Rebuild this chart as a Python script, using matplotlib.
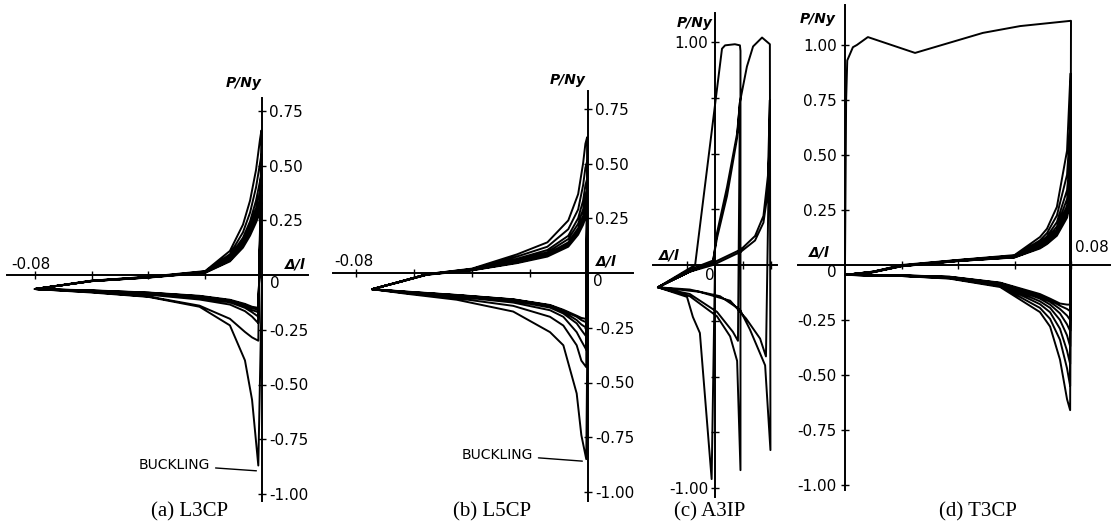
import matplotlib
matplotlib.use("Agg")
import matplotlib.pyplot as plt

W, H = 1119, 532

# ---------------- data (Delta/l , P/Ny) ----------------
# (a) L3CP : compression branches (from buckling tip to the left end)
a_dn_x = [-0.0013, -0.0035, -0.0060, -0.0113, -0.0220, -0.0400, -0.0600, -0.0800]
a_dn_y = [
    [-0.87, -0.57, -0.39, -0.23, -0.145, -0.100, -0.080, -0.064],
    [-0.30, -0.285, -0.26, -0.20, -0.140, -0.098, -0.078, -0.064],
    [-0.22, -0.19, -0.165, -0.135, -0.112, -0.090, -0.075, -0.064],
    [-0.19, -0.17, -0.150, -0.125, -0.105, -0.086, -0.073, -0.064],
    [-0.17, -0.16, -0.142, -0.120, -0.100, -0.083, -0.072, -0.064],
    [-0.16, -0.15, -0.136, -0.116, -0.097, -0.081, -0.071, -0.064],
    [-0.15, -0.145, -0.132, -0.113, -0.095, -0.080, -0.070, -0.064],
]
# (a) tension branches (from left end to tension peak)
a_up_x = [-0.0800, -0.0700, -0.0600, -0.0400, -0.0200, -0.0113, -0.0067, -0.0042, -0.0021, -0.0007, -0.0002]
a_up_y = [
    [-0.064, -0.045, -0.026, -0.008, 0.018, 0.110, 0.230, 0.340, 0.480, 0.620, 0.660],
    [-0.064, -0.045, -0.026, -0.009, 0.016, 0.095, 0.195, 0.285, 0.400, 0.510, 0.550],
    [-0.064, -0.046, -0.027, -0.010, 0.014, 0.085, 0.170, 0.245, 0.340, 0.430, 0.460],
    [-0.064, -0.046, -0.027, -0.010, 0.013, 0.078, 0.155, 0.225, 0.305, 0.380, 0.410],
    [-0.064, -0.046, -0.028, -0.011, 0.012, 0.072, 0.145, 0.210, 0.280, 0.340, 0.365],
    [-0.064, -0.046, -0.028, -0.011, 0.011, 0.067, 0.135, 0.195, 0.260, 0.310, 0.330],
    [-0.064, -0.046, -0.028, -0.012, 0.010, 0.062, 0.125, 0.180, 0.240, 0.285, 0.300],
]

# (b) L5CP
b_dn_x = [-0.0006, -0.0023, -0.0039, -0.0085, -0.0131, -0.0258, -0.0453, -0.0625, -0.0745]
b_dn_y = [
    [-0.85, -0.74, -0.55, -0.33, -0.27, -0.176, -0.122, -0.095, -0.074],
    [-0.43, -0.40, -0.33, -0.24, -0.20, -0.150, -0.115, -0.092, -0.074],
    [-0.35, -0.31, -0.27, -0.20, -0.17, -0.135, -0.108, -0.090, -0.074],
    [-0.29, -0.26, -0.23, -0.185, -0.158, -0.127, -0.105, -0.088, -0.074],
    [-0.25, -0.235, -0.215, -0.177, -0.152, -0.123, -0.102, -0.087, -0.074],
    [-0.225, -0.215, -0.20, -0.172, -0.148, -0.121, -0.101, -0.086, -0.074],
    [-0.21, -0.205, -0.195, -0.168, -0.146, -0.120, -0.100, -0.085, -0.074],
]
b_up_x = [-0.0745, -0.0650, -0.0555, -0.0400, -0.0245, -0.0140, -0.0068, -0.0034, -0.0017, -0.0009, -0.0003]
b_up_y = [
    [-0.074, -0.040, -0.005, 0.020, 0.085, 0.140, 0.240, 0.360, 0.500, 0.590, 0.620],
    [-0.074, -0.040, -0.005, 0.018, 0.075, 0.120, 0.200, 0.290, 0.400, 0.480, 0.510],
    [-0.074, -0.040, -0.006, 0.016, 0.065, 0.105, 0.170, 0.250, 0.330, 0.400, 0.430],
    [-0.074, -0.041, -0.006, 0.015, 0.058, 0.095, 0.155, 0.225, 0.290, 0.350, 0.380],
    [-0.074, -0.041, -0.007, 0.014, 0.052, 0.087, 0.140, 0.205, 0.260, 0.310, 0.340],
    [-0.074, -0.041, -0.007, 0.013, 0.048, 0.080, 0.130, 0.190, 0.240, 0.280, 0.300],
    [-0.074, -0.042, -0.008, 0.012, 0.045, 0.075, 0.120, 0.175, 0.220, 0.250, 0.270],
]

# (c) A3IP : the record in order, segment by segment
c_seg_x = [
    [0.0, -0.0012, -0.0054, -0.0079, -0.0100, -0.0204],
    [-0.0204, -0.0071, 0.0025, 0.0036, 0.0071, 0.0089, 0.0091],
    [0.0091, 0.0079, 0.0054, 0.0007, -0.0090, -0.0204],
    [-0.0204, -0.0090, -0.0007, 0.0007, 0.0043, 0.0079, 0.0089],
    [0.0082, 0.0064, 0.0007, -0.0090, -0.0204],
    [-0.0204, -0.0090, -0.0007, 0.0007, 0.0043, 0.0079, 0.0089, 0.0114, 0.0136, 0.0168, 0.0196],
    [0.0198, 0.0179, 0.0125, 0.0089, 0.0018, -0.0090, -0.0204],
    [-0.0204, -0.0090, -0.0007, 0.0093, 0.0143, 0.0173, 0.0189, 0.0196],
    [0.0182, 0.0161, 0.0111, 0.0054, -0.0057, -0.0204],
    [-0.0204, -0.0090, -0.0007, 0.0093, 0.0143, 0.0173, 0.0189, 0.0196],
]
c_seg_y = [
    [0.0, -0.96, -0.305, -0.233, -0.143, -0.10],
    [-0.10, 0.0, 0.97, 0.985, 0.99, 0.985, 0.96],
    [-0.92, -0.43, -0.32, -0.23, -0.14, -0.10],
    [-0.10, -0.03, 0.01, 0.143, 0.35, 0.59, 0.73],
    [-0.34, -0.30, -0.21, -0.13, -0.10],
    [-0.10, -0.02, 0.02, 0.12, 0.31, 0.57, 0.73, 0.89, 0.98, 1.02, 0.99],
    [-0.83, -0.45, -0.29, -0.20, -0.14, -0.11, -0.10],
    [-0.10, -0.03, 0.01, 0.07, 0.13, 0.22, 0.40, 0.74],
    [-0.41, -0.33, -0.24, -0.16, -0.12, -0.10],
    [-0.10, -0.03, 0.0, 0.06, 0.11, 0.19, 0.33, 0.62],
]

# (d) T3CP
d_first_x = [0.0, 0.0004, 0.0008, 0.0028, 0.0042, 0.0081, 0.0248, 0.0488, 0.0620, 0.0800]
d_first_y = [0.0, 0.75, 0.93, 0.99, 1.00, 1.036, 0.964, 1.055, 1.086, 1.110]
d_dn_x = [0.0797, 0.0786, 0.0761, 0.0726, 0.0690, 0.0549, 0.0370, 0.0200, 0.0]
d_dn_y = [
    [-0.66, -0.61, -0.43, -0.28, -0.214, -0.100, -0.062, -0.050, -0.045],
    [-0.55, -0.47, -0.34, -0.245, -0.195, -0.096, -0.060, -0.050, -0.045],
    [-0.45, -0.39, -0.29, -0.215, -0.178, -0.092, -0.058, -0.049, -0.045],
    [-0.37, -0.32, -0.25, -0.195, -0.165, -0.089, -0.057, -0.049, -0.045],
    [-0.30, -0.27, -0.22, -0.180, -0.153, -0.086, -0.056, -0.048, -0.045],
    [-0.25, -0.23, -0.20, -0.168, -0.145, -0.084, -0.055, -0.048, -0.045],
    [-0.21, -0.20, -0.185, -0.160, -0.138, -0.082, -0.054, -0.047, -0.045],
    [-0.18, -0.18, -0.175, -0.153, -0.132, -0.080, -0.053, -0.047, -0.045],
]
d_up_x = [0.0, 0.0100, 0.0200, 0.0400, 0.0600, 0.0690, 0.0715, 0.0750, 0.0786, 0.0798]
d_up_y = [
    [-0.045, -0.030, 0.000, 0.023, 0.045, 0.127, 0.165, 0.264, 0.520, 0.870],
    [-0.045, -0.030, -0.002, 0.022, 0.042, 0.112, 0.145, 0.225, 0.410, 0.640],
    [-0.045, -0.031, -0.003, 0.021, 0.040, 0.102, 0.130, 0.195, 0.340, 0.500],
    [-0.045, -0.031, -0.004, 0.020, 0.038, 0.094, 0.120, 0.175, 0.300, 0.430],
    [-0.045, -0.032, -0.004, 0.019, 0.037, 0.088, 0.112, 0.160, 0.270, 0.380],
    [-0.045, -0.032, -0.005, 0.019, 0.036, 0.083, 0.105, 0.150, 0.250, 0.340],
    [-0.045, -0.032, -0.005, 0.018, 0.035, 0.079, 0.100, 0.141, 0.232, 0.310],
    [-0.045, -0.033, -0.006, 0.018, 0.034, 0.075, 0.095, 0.133, 0.215, 0.285],
]

y_ticks = [1.0, 0.75, 0.5, 0.25, -0.25, -0.5, -0.75, -1.0]
y_labels = ["1.00", "0.75", "0.50", "0.25", "-0.25", "-0.50", "-0.75", "-1.00"]
captions = ["(a) L3CP", "(b) L5CP", "(c) A3IP", "(d) T3CP"]

LW = 1.4
TXT = dict(fontsize=11, family="DejaVu Sans")
PN = dict(fontsize=10, family="DejaVu Sans", style="italic", weight="bold")

fig = plt.figure(figsize=(W / 100, H / 100), dpi=100)


def panel(x0, y0, sx, sy, xlim, ylim, side):
    # place an axes so that data (0,0) lands on pixel (x0,y0)
    left = x0 + xlim[0] * sx
    right = x0 + xlim[1] * sx
    top = y0 - ylim[1] * sy
    bot = y0 - ylim[0] * sy
    ax = fig.add_axes([left / W, 1 - bot / H, (right - left) / W, (bot - top) / H])
    ax.set_xlim(xlim)
    ax.set_ylim(ylim)
    ax.patch.set_alpha(0)
    for s in ax.spines.values():
        s.set_visible(False)
    ax.spines[side].set_visible(True)
    ax.spines[side].set_position(("data", 0))
    ax.spines["bottom"].set_visible(True)
    ax.spines["bottom"].set_position(("data", 0))
    for s in (side, "bottom"):
        ax.spines[s].set_linewidth(LW)
    ax.yaxis.set_ticks_position(side)
    ax.xaxis.set_ticks_position("bottom")
    ax.tick_params(direction="inout", length=6, width=1.0, labelsize=11, pad=2)
    ax.tick_params(axis="x", labelbottom=False)
    return ax


def loops(ax, first_x, first_y, dn_x, dn_y, up_x, up_y):
    xs, ys = list(first_x), list(first_y)
    for i in range(len(dn_y)):
        xs += dn_x
        ys += dn_y[i]
        if i < len(up_y):
            xs += up_x
            ys += up_y[i]
    ax.plot(xs, ys, color="k", lw=LW, clip_on=False, solid_joinstyle="round")


# ---- (a) ----
ax = panel(262, 275, 2840, 219, (-0.0898, 0.0162), (-1.03, 0.81), "right")
loops(ax, [0.0], [0.0], a_dn_x, a_dn_y, a_up_x, a_up_y)
ax.set_yticks(y_ticks[1:], y_labels[1:])
ax.set_xticks([-0.08, -0.06, -0.04, -0.02])
ax.text(0.0, 0.875, "P/Ny", ha="right", va="center", **PN)
ax.text(-0.0815, 0.012, "-0.08", ha="center", va="bottom", **TXT)
ax.text(0.0116, 0.015, "Δ/l", ha="center", va="bottom", **PN)
ax.text(0.0046, -0.041, "0", ha="center", va="center", **TXT)
ax.annotate("BUCKLING", xy=(-0.001, -0.895), xytext=(-0.0183, -0.868),
            ha="right", va="center", fontsize=10, family="DejaVu Sans",
            arrowprops=dict(arrowstyle="-", lw=1.0, color="k"))

# ---- (b) ----
ax = panel(588, 273, 2900, 219, (-0.088, 0.0155), (-1.04, 0.83), "right")
loops(ax, [0.0], [0.0], b_dn_x, b_dn_y, b_up_x, b_up_y)
ax.set_yticks(y_ticks[1:], y_labels[1:])
ax.set_xticks([-0.08, -0.06, -0.04, -0.02])
ax.text(-0.001, 0.88, "P/Ny", ha="right", va="center", **PN)
ax.text(-0.0807, 0.019, "-0.08", ha="center", va="bottom", **TXT)
ax.text(0.0062, 0.02, "Δ/l", ha="center", va="bottom", **PN)
ax.text(0.0035, -0.04, "0", ha="center", va="center", **TXT)
ax.annotate("BUCKLING", xy=(-0.001, -0.86), xytext=(-0.019, -0.83),
            ha="right", va="center", fontsize=10, family="DejaVu Sans",
            arrowprops=dict(arrowstyle="-", lw=1.0, color="k"))

# ---- (c) ----
ax = panel(715, 265, 2800, 223, (-0.0221, 0.0221), (-1.04, 1.13), "left")
xs, ys = [], []
for seg_x, seg_y in zip(c_seg_x, c_seg_y):
    xs += seg_x
    ys += seg_y
ax.plot(xs, ys, color="k", lw=LW, clip_on=False, solid_joinstyle="round")
ax.set_yticks(y_ticks, ["1.00", "", "", "", "", "", "", "-1.00"])
ax.set_xticks([-0.01, 0.01, 0.02])
ax.text(-0.001, 1.085, "P/Ny", ha="right", va="center", **PN)
ax.text(-0.0164, 0.01, "Δ/l", ha="center", va="bottom", **PN)
ax.text(-0.002, -0.045, "0", ha="center", va="center", **TXT)

# ---- (d) ----
ax = panel(845, 265, 2825, 220, (-0.0166, 0.0938), (-1.023, 1.18), "left")
loops(ax, d_first_x, d_first_y, d_dn_x, d_dn_y, d_up_x, d_up_y)
ax.set_yticks(y_ticks, y_labels)
ax.set_xticks([0.02, 0.04, 0.06, 0.08])
ax.tick_params(axis="y", pad=3)
ax.text(-0.0035, 1.118, "P/Ny", ha="right", va="center", **PN)
ax.text(-0.0092, 0.023, "Δ/l", ha="center", va="bottom", **PN)
ax.text(-0.0046, -0.036, "0", ha="center", va="center", **TXT)
ax.text(0.0814, 0.045, "0.08", ha="left", va="bottom", **TXT)

# captions
for cx, txt in zip([190, 492, 710, 978], captions):
    fig.text(cx / W, 1 - 512 / H, txt, ha="center", va="center",
             fontsize=15, family="Liberation Serif")

fig.savefig("out.png", dpi=100)
